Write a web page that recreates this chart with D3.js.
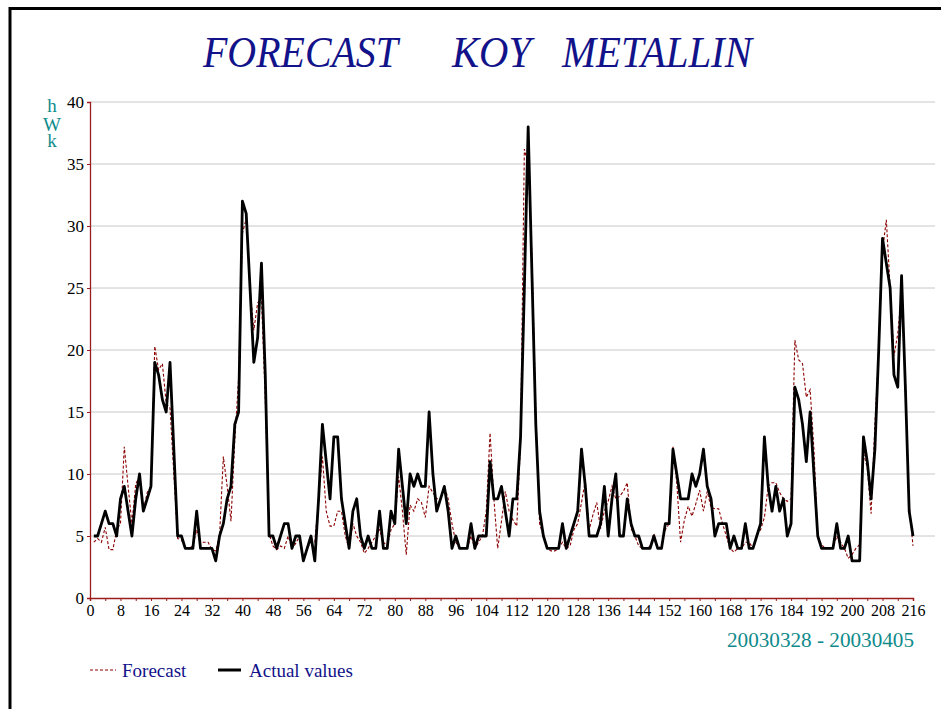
<!DOCTYPE html>
<html><head><meta charset="utf-8">
<script src="https://d3js.org/d3.v7.min.js"></script>
<style>body{margin:0;background:#fff}svg{display:block}</style>
</head><body>
<svg id="c" width="941" height="709"></svg>
<script>
const titleWords = ["FORECAST", "KOY", "METALLIN"];
const yTicks = [0, 5, 10, 15, 20, 25, 30, 35, 40];
const xTickLabels = d3.range(0, 217, 8);
const xMinorTicks = d3.range(0, 217, 4);
const yUnitLetters = ["h", "W", "k"];
const periodLabel = "20030328 - 20030405";
const seriesNames = ["Forecast", "Actual values"];
const hours = d3.range(1, 217);
const actual = [5,5,6,7,6,6,5,8,9,7,5,8,10,7,8,9,19,18,16,15,19,12,5,5,4,4,4,7,4,4,4,4,3,5,6,8,9,14,15,32,31,25,19,21,27,18,5,5,4,5,6,6,4,5,5,3,4,5,3,8,14,11,8,13,13,8,6,4,7,8,5,4,5,4,4,7,4,4,7,6,12,9,6,10,9,10,9,9,15,10,7,8,9,7,4,5,4,4,4,6,4,5,5,5,11,8,8,9,7,5,8,8,13,25,38,26,14,7,5,4,4,4,4,6,4,5,6,7,12,9,5,5,5,6,9,5,8,10,5,5,8,6,5,5,4,4,4,5,4,4,6,6,12,10,8,8,8,10,9,10,12,9,8,5,6,6,6,4,5,4,4,6,4,4,5,6,13,9,7,9,7,8,5,6,17,16,14,11,15,10,5,4,4,4,4,6,4,4,5,3,3,3,13,11,8,12,20,29,27,25,18,17,26,17,7,5];
const forecast = [4.5,4.8,4.5,5.7,3.9,3.9,5.5,6,12.2,9,6,9.2,9.8,7,8.5,9,20.3,18.4,18.9,15.7,15.3,10,4.8,4.7,4,4,4.2,5.5,4.5,4.5,4.5,3.9,3.8,5,11.4,9,6.2,12.7,17.7,29.4,30.6,25,21.6,23.8,24.2,16,5.2,4.2,3.9,4.2,4,5,4,4.4,5,3,4,4.5,4.5,8,11.4,7,5.8,5.8,7,7,5,4,6,5,4.5,3.6,4,4.5,5,5.5,4.5,4.2,5.5,6,9.8,7,3.5,7.5,7,8,7.7,6.5,9,8.5,8,8,9,8,6,4.5,4,4,4,5,4,4.5,5,7,13.3,8,4,6.2,8.6,7,6.3,5.8,12.5,36.2,35,27.5,15,6,5,4,3.8,3.8,4,4.5,4,4.2,5.5,6,7.7,9.5,5.5,6.7,7.7,5.6,7,7.8,9,8,8.2,8.6,9.3,5.6,5,4.2,4,4,4.2,5.2,4,4.2,5.5,6,12.2,9.3,4.5,6.3,7.4,6.6,7.6,8.7,7,8.6,7.3,7.2,7.2,6,5,4,3.7,4,4,4.5,4.5,4,5,5.5,6.5,9,9.3,9.3,8.5,8,7.8,8,20.8,19.2,18.9,16.2,16.8,12,5,4.3,4,4,4,5,4.5,4,3.2,3.5,4,4.3,11.7,10.5,6.8,14,20,28,30.5,25,19.5,21.3,24.5,17.6,7.5,4.2];

const svg = d3.select("#c");
const serif = "'Liberation Serif','Times New Roman',serif";
const axisColor = "#9b1c1c";
const navy = "#12128a";
const teal = "#0f8b8b";

svg.append("rect").attr("width",941).attr("height",709).attr("fill","#fff");
svg.append("path").attr("d","M10,709V8.5H941").attr("fill","none").attr("stroke","#000").attr("stroke-width",3);

const x = d3.scaleLinear().domain([0,216]).range([90,913]);
const y = d3.scaleLinear().domain([0,40]).range([598,102]);

// title
const titlePos = [[203,398],[452,531],[562,752]];
titleWords.forEach((w,i)=>{
  svg.append("text").attr("x",titlePos[i][0]).attr("y",67)
    .attr("textLength",titlePos[i][1]-titlePos[i][0]).attr("lengthAdjust","spacingAndGlyphs")
    .attr("font-family",serif).attr("font-style","italic").attr("font-size",44)
    .attr("fill",navy).text(w);
});

// grid
svg.append("g").selectAll("line").data(yTicks.filter(d=>d>0)).join("line")
  .attr("x1",90).attr("x2",935).attr("y1",d=>y(d)).attr("y2",d=>y(d))
  .attr("stroke","#c8c8c8").attr("stroke-width",1);

// y axis
const ya = svg.append("g").attr("transform","translate(90,0)")
  .call(d3.axisLeft(y).tickValues(yTicks).tickSize(3).tickPadding(3).tickFormat(d3.format("d")));
ya.select(".domain").attr("stroke",axisColor).attr("stroke-width",1.3);
ya.selectAll(".tick line").attr("stroke",axisColor);
ya.selectAll("text").attr("font-family",serif).attr("font-size",17).attr("fill","#000");

// x axis
const xa = svg.append("g").attr("transform","translate(0,598)")
  .call(d3.axisBottom(x).tickValues(xMinorTicks).tickSize(3).tickPadding(4)
    .tickFormat(d=> d%8===0 ? d : ""));
xa.select(".domain").attr("stroke",axisColor).attr("stroke-width",1.5);
xa.selectAll(".tick line").attr("stroke",axisColor);
xa.selectAll("text").attr("font-family",serif).attr("font-size",16).attr("fill","#000");

// unit letters
const unitY = [112,131,147];
yUnitLetters.forEach((l,i)=>{
  svg.append("text").attr("x",52).attr("y",unitY[i]).attr("text-anchor","middle")
    .attr("font-family",serif).attr("font-size",19).attr("fill",teal).text(l);
});

// period label
svg.append("text").attr("x",727).attr("y",647).attr("textLength",187).attr("lengthAdjust","spacingAndGlyphs")
  .attr("font-family",serif).attr("font-size",20).attr("fill",teal).text(periodLabel);

// lines
const line = d3.line().x((d,i)=>x(hours[i])).y(d=>y(d));
svg.append("path").datum(forecast).attr("d",line).attr("fill","none")
  .attr("stroke","#8b0000").attr("stroke-width",1.1).attr("stroke-dasharray","3,2");
svg.append("path").datum(actual).attr("d",line).attr("fill","none")
  .attr("stroke","#000").attr("stroke-width",2.8).attr("stroke-linejoin","round");

// legend
svg.append("line").attr("x1",90).attr("x2",116).attr("y1",670).attr("y2",670)
  .attr("stroke","#8b0000").attr("stroke-width",1.1).attr("stroke-dasharray","3,2");
svg.append("text").attr("x",122).attr("y",677).attr("font-family",serif).attr("font-size",19)
  .attr("fill",navy).text(seriesNames[0]);
svg.append("line").attr("x1",218).attr("x2",241).attr("y1",670).attr("y2",670)
  .attr("stroke","#000").attr("stroke-width",3);
svg.append("text").attr("x",249).attr("y",677).attr("font-family",serif).attr("font-size",19)
  .attr("fill",navy).text(seriesNames[1]);
</script>
</body></html>
